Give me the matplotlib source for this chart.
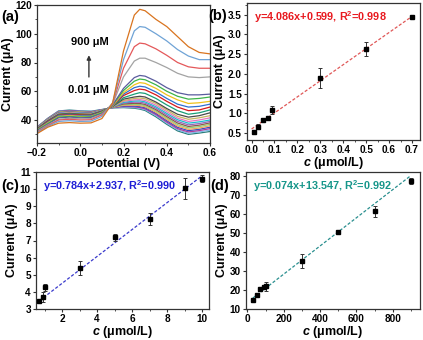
import numpy as np
import matplotlib
matplotlib.use("Agg")
import matplotlib.pyplot as plt

plt.rcParams["font.family"] = ["Liberation Sans", "DejaVu Sans"]
plt.rcParams["font.weight"] = "bold"
plt.rcParams["axes.labelweight"] = "bold"
plt.rcParams["mathtext.fontset"] = "custom"
plt.rcParams["mathtext.rm"] = "Liberation Sans:bold"
plt.rcParams["mathtext.bf"] = "Liberation Sans:bold"
plt.rcParams["mathtext.it"] = "Liberation Sans:italic:bold"

# ---- panel (a): DPV curves, potentials (V) and currents (uA), highest conc first
potentials = [-0.2, -0.15, -0.1, -0.05, 0.0, 0.05, 0.1, 0.15, 0.2, 0.25, 0.275,
              0.3, 0.35, 0.4, 0.45, 0.5, 0.55, 0.6]
dpv_currents = [
    [30.5, 35.0, 37.8, 38.2, 37.8, 38.0, 41.0, 52.0, 88.0, 113.0, 117.0, 116.0, 110.0, 105.0, 98.0, 91.0, 87.0, 86.0],
    [31.0, 35.5, 39.0, 39.5, 39.0, 39.2, 42.5, 52.0, 82.0, 102.0, 105.0, 104.5, 100.0, 95.0, 89.0, 84.5, 82.0, 82.0],
    [31.5, 36.0, 40.0, 40.5, 40.0, 40.2, 43.5, 51.5, 76.0, 91.0, 93.5, 93.0, 89.5, 85.0, 80.0, 77.0, 76.0, 76.0],
    [32.0, 36.5, 40.5, 41.2, 40.8, 41.0, 44.0, 51.0, 70.0, 81.0, 83.0, 83.0, 80.0, 76.5, 72.5, 70.0, 69.5, 70.0],
    [32.5, 37.0, 41.5, 42.0, 41.5, 41.8, 44.5, 50.5, 62.0, 69.5, 71.0, 70.5, 67.0, 62.5, 59.0, 57.5, 57.5, 58.0],
    [32.8, 37.5, 42.0, 42.5, 42.0, 42.2, 45.0, 50.5, 60.5, 67.0, 68.5, 68.0, 64.5, 60.0, 56.5, 54.5, 55.0, 56.0],
    [33.0, 38.0, 42.5, 43.0, 42.5, 42.5, 45.3, 50.0, 59.0, 64.5, 66.0, 65.5, 62.0, 57.5, 54.0, 51.5, 52.0, 53.0],
    [33.2, 38.5, 43.0, 43.5, 43.0, 43.0, 45.6, 50.0, 58.0, 62.5, 63.5, 63.0, 59.5, 55.0, 51.0, 49.0, 49.5, 51.0],
    [33.4, 39.0, 43.3, 44.0, 43.5, 43.3, 45.8, 49.8, 57.0, 60.5, 61.5, 61.0, 57.5, 53.0, 49.0, 46.5, 47.0, 49.0],
    [33.6, 39.2, 43.6, 44.3, 43.8, 43.6, 46.0, 49.6, 55.5, 58.0, 59.0, 58.5, 55.0, 50.5, 46.5, 44.0, 45.0, 47.0],
    [33.8, 39.5, 44.0, 44.6, 44.1, 43.9, 46.2, 49.5, 54.5, 56.0, 56.5, 56.0, 52.5, 48.0, 44.0, 42.0, 43.0, 45.0],
    [34.0, 39.7, 44.2, 44.9, 44.4, 44.1, 46.3, 49.4, 53.5, 55.0, 55.3, 54.8, 51.5, 47.0, 42.5, 40.5, 41.5, 43.0],
    [34.1, 39.9, 44.5, 45.1, 44.6, 44.3, 46.4, 49.3, 53.0, 54.0, 54.2, 53.6, 50.3, 45.8, 41.3, 39.0, 40.0, 41.5],
    [34.2, 40.0, 44.7, 45.3, 44.8, 44.5, 46.5, 49.2, 52.3, 53.2, 53.3, 52.6, 49.2, 44.6, 40.2, 37.8, 38.7, 40.0],
    [34.3, 40.2, 44.9, 45.5, 45.0, 44.7, 46.6, 49.1, 51.8, 52.4, 52.4, 51.7, 48.2, 43.5, 39.0, 36.6, 37.5, 39.0],
    [34.4, 40.3, 45.1, 45.7, 45.2, 44.9, 46.7, 49.0, 51.2, 51.6, 51.5, 50.8, 47.2, 42.4, 37.9, 35.5, 36.4, 38.0],
    [34.5, 40.5, 45.3, 45.9, 45.4, 45.1, 46.8, 48.9, 50.7, 50.9, 50.7, 50.0, 46.3, 41.4, 36.8, 34.5, 35.4, 37.0],
    [34.6, 40.6, 45.5, 46.1, 45.6, 45.3, 46.9, 48.8, 50.2, 50.3, 50.0, 49.2, 45.4, 40.4, 35.8, 33.5, 34.4, 36.0],
    [34.7, 40.8, 45.7, 46.3, 45.8, 45.5, 47.0, 48.7, 49.8, 49.7, 49.3, 48.5, 44.6, 39.5, 34.9, 32.6, 33.5, 35.0],
    [34.8, 40.9, 45.9, 46.5, 46.0, 45.7, 47.1, 48.6, 49.4, 49.2, 48.7, 47.8, 43.8, 38.6, 34.0, 31.7, 32.6, 34.0],
    [34.9, 41.0, 46.1, 46.7, 46.2, 45.9, 47.2, 48.5, 49.0, 48.7, 48.1, 47.2, 43.0, 37.8, 33.2, 30.8, 31.7, 33.0],
    [35.0, 41.2, 46.3, 46.9, 46.4, 46.1, 47.3, 48.4, 48.6, 48.2, 47.6, 46.6, 42.2, 37.0, 32.4, 30.0, 30.9, 32.0],
]
dpv_colors = ["#d9741f", "#6fa3d6", "#e4585a", "#a3a3a3", "#5a5c9e", "#3db34a",
              "#f0c21c", "#2f6fd0", "#d7191c", "#1a9e77", "#4a4a4a", "#c8b560",
              "#e377c2", "#17becf", "#9467bd", "#8c564b", "#8fd175", "#f5a25d",
              "#3b4cc0", "#b03a9a", "#7fb8e6", "#2a7f7a"]

# ---- panel (b)
conc_b = [0.01, 0.03, 0.05, 0.07, 0.09, 0.3, 0.5, 0.7]
curr_b = [0.52, 0.66, 0.83, 0.88, 1.09, 1.89, 2.63, 3.45]
err_b = [0.06, 0.07, 0.04, 0.03, 0.10, 0.25, 0.17, 0.03]
fit_b = (4.086, 0.599)

# ---- panel (c)
conc_c = [0.7, 0.9, 1.0, 3.0, 5.0, 7.0, 9.0, 10.0]
curr_c = [3.45, 3.72, 4.28, 5.38, 7.18, 8.24, 10.05, 10.62]
err_c = [0.05, 0.30, 0.20, 0.40, 0.20, 0.35, 0.62, 0.18]
fit_c = (0.784, 2.937)

# ---- panel (d)
conc_d = [30, 50, 70, 90, 100, 300, 500, 700, 900]
curr_d = [14.6, 17.3, 20.3, 21.4, 22.0, 35.3, 50.6, 61.4, 77.2]
err_d = [0.5, 0.5, 0.6, 1.0, 2.4, 3.5, 0.5, 2.8, 1.4]
fit_d = (0.074, 13.547)

W, H = 423, 340
fig = plt.figure(figsize=(W / 100, H / 100), dpi=100)


def box(l, t, r, b):
    return [l / W, 1 - b / H, (r - l) / W, (b - t) / H]


def style(ax):
    for s in ax.spines.values():
        s.set_color("#333333")
        s.set_linewidth(0.9)
    ax.tick_params(which="major", direction="out", length=2.5, width=0.8,
                   labelsize=7.2, pad=1.2, colors="#333333", labelcolor="black")
    ax.tick_params(which="minor", direction="out", length=1.5, width=0.6,
                   colors="#333333")
    for lab in ax.get_xticklabels() + ax.get_yticklabels():
        lab.set_fontweight("bold")


ax_a = fig.add_axes(box(37, 5, 210, 143))
ax_b = fig.add_axes(box(247, 3, 420, 140))
ax_c = fig.add_axes(box(36, 172, 209, 309))
ax_d = fig.add_axes(box(246, 172, 420, 309))

# (a)
for vals, col in list(zip(dpv_currents, dpv_colors))[::-1]:
    ax_a.plot(potentials, vals, color=col, lw=0.9)
ax_a.set_xlim(-0.2, 0.6)
ax_a.set_ylim(24, 120)
ax_a.set_xticks([-0.2, 0.0, 0.2, 0.4, 0.6])
ax_a.set_xticks(np.arange(-0.1, 0.6, 0.2), minor=True)
ax_a.set_yticks([40, 60, 80, 100, 120])
ax_a.set_yticks([30, 50, 70, 90, 110], minor=True)
ax_a.set_xlabel("Potential (V)", fontsize=9, labelpad=0)
ax_a.set_ylabel("Current (\u03bcA)", fontsize=9, labelpad=1)
ax_a.annotate("", xy=(0.04, 87), xytext=(0.04, 68),
              arrowprops=dict(arrowstyle="-|>", color="#333333", lw=1.0,
                              mutation_scale=6))
ax_a.text(0.045, 94, "900 \u03bcM", fontsize=8, fontweight="bold",
          ha="center", va="center")
ax_a.text(0.04, 61, "0.01 \u03bcM", fontsize=8, fontweight="bold",
          ha="center", va="center")
style(ax_a)


def cal_panel(ax, x, y, e, fit, xs, color, lcolor, eq):
    ax.plot(xs, [fit[0] * v + fit[1] for v in xs], ls=(0, (2.5, 1.5)),
            color=lcolor, lw=0.9, zorder=1)
    ax.errorbar(x, y, yerr=e, fmt="s", ms=2.8, color="black", ecolor="#333333",
                elinewidth=0.7, capsize=1.5, capthick=0.7, zorder=3)
    ax.text(0.04, 0.9, eq, transform=ax.transAxes, color=color, fontsize=7.8,
            fontweight="bold", ha="left", va="center")
    ax.set_xlabel("$c$ (\u03bcmol/L)", fontsize=9, labelpad=0)
    ax.set_ylabel("Current (\u03bcA)", fontsize=9, labelpad=1)


# (b)
cal_panel(ax_b, conc_b, curr_b, err_b, fit_b, [0.0, 0.7], "#e8191f", "#e05858",
          "y=4.086x+0.599, R$^{2}$=0.998")
ax_b.set_xlim(-0.02, 0.735)
ax_b.set_ylim(0.32, 3.8)
ax_b.set_xticks(np.arange(0.0, 0.71, 0.1))
ax_b.set_xticks(np.arange(0.05, 0.71, 0.1), minor=True)
ax_b.set_yticks(np.arange(0.5, 3.51, 0.5))
ax_b.set_yticks(np.arange(0.75, 3.8, 0.5), minor=True)
style(ax_b)

# (c)
cal_panel(ax_c, conc_c, curr_c, err_c, fit_c, [0.7, 10.0], "#1f1fd6", "#3a3acc",
          "y=0.784x+2.937, R$^{2}$=0.990")
ax_c.set_xlim(0.5, 10.4)
ax_c.set_ylim(3, 11)
ax_c.set_xticks([2, 4, 6, 8, 10])
ax_c.set_xticks([1, 3, 5, 7, 9], minor=True)
ax_c.set_yticks(range(3, 12))
style(ax_c)

# (d)
cal_panel(ax_d, conc_d, curr_d, err_d, fit_d, [30, 900], "#16968a", "#2a8f8f",
          "y=0.074x+13.547, R$^{2}$=0.992")
ax_d.set_xlim(-8, 950)
ax_d.set_ylim(10, 82)
ax_d.set_xticks([0, 200, 400, 600, 800])
ax_d.set_xticks([100, 300, 500, 700, 900], minor=True)
ax_d.set_yticks(range(10, 81, 10))
style(ax_d)

for lab, (px, py) in zip(["(a)", "(b)", "(c)", "(d)"],
                         [(1, 17), (208, 16), (1, 186), (210, 186)]):
    fig.text(px / W, 1 - py / H, lab, fontsize=10.5, fontweight="bold",
             ha="left", va="center")

fig.savefig("out.png", dpi=100)
